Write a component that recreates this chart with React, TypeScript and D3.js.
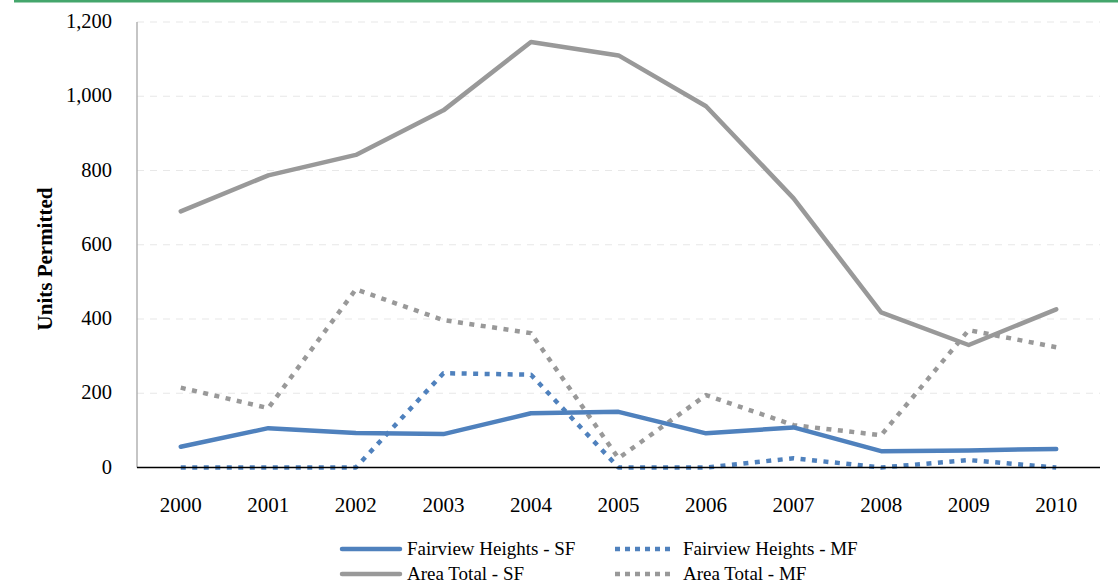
import React from "react";
import * as d3 from "d3";

const years = ["2000","2001","2002","2003","2004","2005","2006","2007","2008","2009","2010"];
const fairviewSF = [56, 106, 93, 90, 146, 150, 92, 108, 44, 46, 50];
const fairviewMF = [0, 0, 0, 254, 250, 0, 0, 25, 0, 20, 0];
const areaSF = [690, 787, 842, 962, 1146, 1110, 973, 725, 418, 330, 426];
const areaMF = [215, 160, 480, 397, 362, 25, 195, 114, 87, 370, 324];
const yTicks = [0, 200, 400, 600, 800, 1000, 1200];

const BLUE = "#4f81bd";
const GRAY = "#999999";
const FONT = "Liberation Serif, Times New Roman, serif";

const series = [
  { name: "Fairview Heights - SF", values: fairviewSF, color: BLUE, dotted: false },
  { name: "Fairview Heights - MF", values: fairviewMF, color: BLUE, dotted: true },
  { name: "Area Total - SF", values: areaSF, color: GRAY, dotted: false },
  { name: "Area Total - MF", values: areaMF, color: GRAY, dotted: true },
];

export default function App() {
  const W = 1118, H = 585;
  const left = 137, right = 1100, top = 22, bottom = 467.5;
  const x = d3.scaleBand<string>().domain(years).range([left, right]);
  const y = d3.scaleLinear().domain([0, 1200]).range([bottom, top]);
  const cx = (d: string) => (x(d) as number) + x.bandwidth() / 2;
  const line = d3.line<number>().x((_, i) => cx(years[i])).y((v) => y(v));
  const fmt = d3.format(",");

  const drawOrder = [series[2], series[3], series[1], series[0]];

  const legendItems = [
    { s: series[0], lx: 340, tx: 407, ly: 549 },
    { s: series[1], lx: 615, tx: 683, ly: 549 },
    { s: series[2], lx: 340, tx: 407, ly: 574 },
    { s: series[3], lx: 615, tx: 683, ly: 574 },
  ];

  return (
    <svg width={W} height={H} style={{ position: "absolute", left: 0, top: 0, background: "#fff" }}>
      <rect x={0} y={0} width={W} height={H} fill="#fff" />
      <rect x={14} y={0} width={W - 14} height={2.5} fill="#44a66c" />
      {yTicks.map((t) => (
        <g key={t}>
          {t > 0 && (
            <line x1={left} x2={right} y1={y(t)} y2={y(t)} stroke="#e8e8e8" strokeWidth={1.2} strokeDasharray="7,6" />
          )}
          <text x={112} y={y(t)} dy="0.3em" textAnchor="end" fontFamily={FONT} fontSize={20.5} fill="#000">
            {fmt(t)}
          </text>
        </g>
      ))}
      <line x1={left} x2={left} y1={top} y2={bottom} stroke="#a6a6a6" strokeWidth={1.3} />
      {drawOrder.map((s) => (
        <path
          key={s.name}
          d={line(s.values) || ""}
          fill="none"
          stroke={s.color}
          strokeWidth={4.5}
          strokeDasharray={s.dotted ? "5,6.5" : undefined}
          strokeLinejoin="round"
          strokeLinecap={s.dotted ? "butt" : "round"}
        />
      ))}
      <line x1={left} x2={right} y1={bottom} y2={bottom} stroke="#000" strokeWidth={1.5} />
      {years.map((yr) => (
        <text key={yr} x={cx(yr)} y={512} textAnchor="middle" fontFamily={FONT} fontSize={21} fill="#000">
          {yr}
        </text>
      ))}
      <text
        transform={`translate(52, 259) rotate(-90)`}
        textAnchor="middle"
        fontFamily={FONT}
        fontSize={21}
        fontWeight="bold"
        fill="#000"
      >
        Units Permitted
      </text>
      {legendItems.map(({ s, lx, tx, ly }) => (
        <g key={s.name}>
          <line
            x1={s.dotted ? lx : lx + 2}
            x2={s.dotted ? lx + 56 : lx + 60}
            y1={ly}
            y2={ly}
            stroke={s.color}
            strokeWidth={4.5}
            strokeDasharray={s.dotted ? "5,5" : undefined}
            strokeLinecap={s.dotted ? "butt" : "round"}
          />
          <text x={tx} y={ly} dy="0.32em" fontFamily={FONT} fontSize={19} fill="#000">
            {s.name}
          </text>
        </g>
      ))}
    </svg>
  );
}
